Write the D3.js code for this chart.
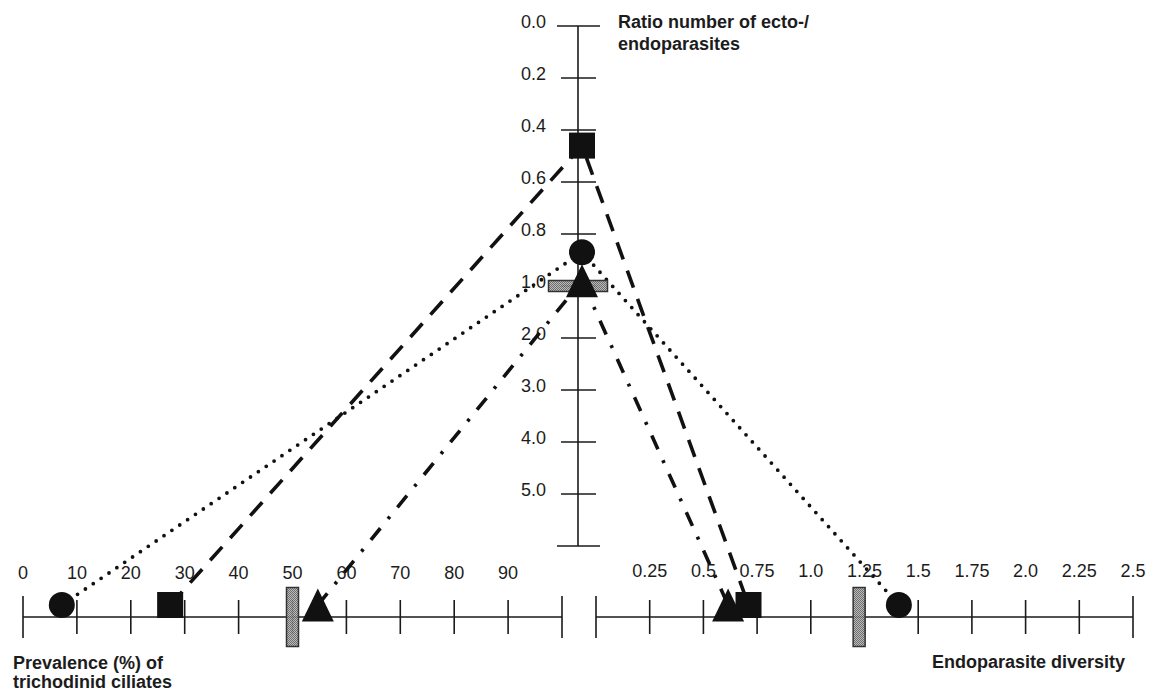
<!DOCTYPE html>
<html>
<head>
<meta charset="utf-8">
<script src="https://cdn.jsdelivr.net/npm/d3@7"></script>
<style>
  body { margin: 0; background: #fff; }
  text { font-family: "Liberation Sans", Arial, sans-serif; fill: #1c1c1c; }
  .tick-label { font-size: 18px; }
  .axis-title { font-size: 18px; font-weight: bold; }
</style>
</head>
<body>
<svg id="chart"></svg>
<script>
// data
const ratioTicks = [0, 0.2, 0.4, 0.6, 0.8, 1, 2, 3, 4, 5, 6];
const ratioLabels = ["0.0", "0.2", "0.4", "0.6", "0.8", "1.0", "2.0", "3.0", "4.0", "5.0", ""];
const prevTicks = [0, 10, 20, 30, 40, 50, 60, 70, 80, 90, 100];
const prevLabels = ["0", "10", "20", "30", "40", "50", "60", "70", "80", "90", ""];
const divTicks = [0, 0.25, 0.5, 0.75, 1, 1.25, 1.5, 1.75, 2, 2.25, 2.5];
const divLabels = ["", "0.25", "0.5", "0.75", "1.0", "1.25", "1.5", "1.75", "2.0", "2.25", "2.5"];

// one entry per group: marker shape, line style, and its value on each of the three axes
const groups = ["circle", "square", "triangle"];
const groupLines = ["dotted", "dashed", "dashdot"];
const groupPrevalence = [7.2, 27.3, 54.7];
const groupRatio = [0.87, 0.46, 0.98];
const groupDiversity = [1.41, 0.71, 0.615];

// hatched bars (reference values)
const refPrevalence = 50;
const refRatio = 1.0;
const refDiversity = 1.225;

// constants
const width = 1154;
const height = 693;
const axisX = 578;      // vertical axis position
const axisY = 617;      // horizontal axes position
const markerShift = 4;  // markers on the vertical axis sit slightly right
const markerLift = 12;  // markers on the horizontal axes sit on the line

const svg = d3.select('svg#chart').attr('width', width).attr('height', height);

const yRatio = d3.scaleLinear().domain([0, 1, 6]).range([26, 286, 546]);
const xPrev = d3.scaleLinear().domain([0, 100]).range([23, 562]);
const xDiv = d3.scaleLinear().domain([0, 2.5]).range([596, 1133]);

// hatch pattern
const defs = svg.append('defs');
const pat = defs.append('pattern').attr('id', 'hatch')
  .attr('width', 2).attr('height', 2).attr('patternUnits', 'userSpaceOnUse');
pat.append('rect').attr('width', 2).attr('height', 2).attr('fill', '#b4b4b4');
pat.append('rect').attr('width', 1).attr('height', 1).attr('fill', '#5e5e5e');
pat.append('rect').attr('x', 1).attr('y', 1).attr('width', 1).attr('height', 1).attr('fill', '#5e5e5e');

const axisG = svg.append('g').attr('stroke', '#1a1a1a').attr('stroke-width', 1.6);

// vertical axis
axisG.append('line').attr('x1', axisX).attr('x2', axisX)
  .attr('y1', yRatio(0)).attr('y2', yRatio(6));
axisG.selectAll('line.vtick').data(ratioTicks).enter().append('line')
  .attr('class', 'vtick')
  .attr('x1', (d, i) => (i === 0 || i === ratioTicks.length - 1) ? axisX - 21 : axisX - 17)
  .attr('x2', (d, i) => (i === 0 || i === ratioTicks.length - 1) ? axisX + 22 : axisX + 18)
  .attr('y1', d => yRatio(d)).attr('y2', d => yRatio(d));
svg.selectAll('text.vlabel').data(ratioTicks).enter().append('text')
  .attr('class', 'tick-label vlabel')
  .attr('x', axisX - 32).attr('y', d => yRatio(d) + 2)
  .attr('text-anchor', 'end')
  .text((d, i) => ratioLabels[i]);

// horizontal axes
function horizontalAxis(scale, ticks, labels, cls, labelY) {
  const dom = scale.domain();
  axisG.append('line').attr('x1', scale(dom[0])).attr('x2', scale(dom[1]))
    .attr('y1', axisY).attr('y2', axisY);
  axisG.selectAll('line.' + cls).data(ticks).enter().append('line')
    .attr('class', cls)
    .attr('x1', d => scale(d)).attr('x2', d => scale(d))
    .attr('y1', (d, i) => (i === 0 || i === ticks.length - 1) ? axisY - 21 : axisY - 17)
    .attr('y2', (d, i) => (i === 0 || i === ticks.length - 1) ? axisY + 21 : axisY + 17);
  svg.selectAll('text.' + cls).data(ticks).enter().append('text')
    .attr('class', 'tick-label ' + cls)
    .attr('x', d => scale(d)).attr('y', labelY)
    .attr('text-anchor', 'middle')
    .text((d, i) => labels[i]);
}
horizontalAxis(xPrev, prevTicks, prevLabels, 'ptick', 579);
horizontalAxis(xDiv, divTicks, divLabels, 'dtick', 577);

// axis titles
const titleTop = svg.append('text').attr('class', 'axis-title').attr('x', 618).attr('y', 28);
titleTop.append('tspan').attr('x', 618).text('Ratio number of ecto-/');
titleTop.append('tspan').attr('x', 618).attr('dy', 22).text('endoparasites');

const titleLeft = svg.append('text').attr('class', 'axis-title').attr('x', 13).attr('y', 669);
titleLeft.append('tspan').attr('x', 13).text('Prevalence (%) of');
titleLeft.append('tspan').attr('x', 13).attr('dy', 19).text('trichodinid ciliates');

svg.append('text').attr('class', 'axis-title').attr('x', 932).attr('y', 668)
  .text('Endoparasite diversity');

// connecting lines
const dashes = { dotted: '0 9.5', dashed: '18 12', dashdot: '15 12 3 12' };
const caps = { dotted: 'round', dashed: 'butt', dashdot: 'butt' };
const line = d3.line();

groups.forEach((g, i) => {
  const pts = [
    [xPrev(groupPrevalence[i]), axisY - markerLift],
    [axisX + markerShift, yRatio(groupRatio[i])],
    [xDiv(groupDiversity[i]), axisY - markerLift]
  ];
  svg.append('path')
    .attr('d', line(pts))
    .attr('fill', 'none')
    .attr('stroke', '#111')
    .attr('stroke-width', g === 'circle' ? 3.8 : 3.6)
    .attr('stroke-linecap', caps[groupLines[i]])
    .attr('stroke-dasharray', dashes[groupLines[i]]);
});

// hatched reference bars
svg.append('rect')
  .attr('x', axisX - 29.5).attr('y', yRatio(refRatio) - 5.5)
  .attr('width', 59).attr('height', 11);
[[xPrev, refPrevalence], [xDiv, refDiversity]].forEach(([sc, v]) => {
  svg.append('rect')
    .attr('x', sc(v) - 6).attr('y', axisY - 29.5)
    .attr('width', 12).attr('height', 59);
});
svg.selectAll('rect:not(pattern rect)')
  .attr('fill', 'url(#hatch)').attr('fill-opacity', 0.9)
  .attr('stroke', '#333').attr('stroke-width', 1.5);

// markers
function marker(shape, cx, cy) {
  if (shape === 'circle') {
    svg.append('circle').attr('cx', cx).attr('cy', cy).attr('r', 13).attr('fill', '#111');
  } else if (shape === 'square') {
    svg.append('rect').attr('x', cx - 13).attr('y', cy - 13)
      .attr('width', 26).attr('height', 26).attr('fill', '#111');
  } else {
    const p = d3.path();
    p.moveTo(cx, cy - 16.5);
    p.lineTo(cx + 16, cy + 16.5);
    p.lineTo(cx - 16, cy + 16.5);
    p.closePath();
    svg.append('path').attr('d', p.toString()).attr('fill', '#111');
  }
}

groups.forEach((g, i) => {
  marker(g, xPrev(groupPrevalence[i]), axisY - markerLift);
  marker(g, axisX + markerShift, yRatio(groupRatio[i]));
  marker(g, xDiv(groupDiversity[i]), axisY - markerLift);
});
</script>
</body>
</html>
